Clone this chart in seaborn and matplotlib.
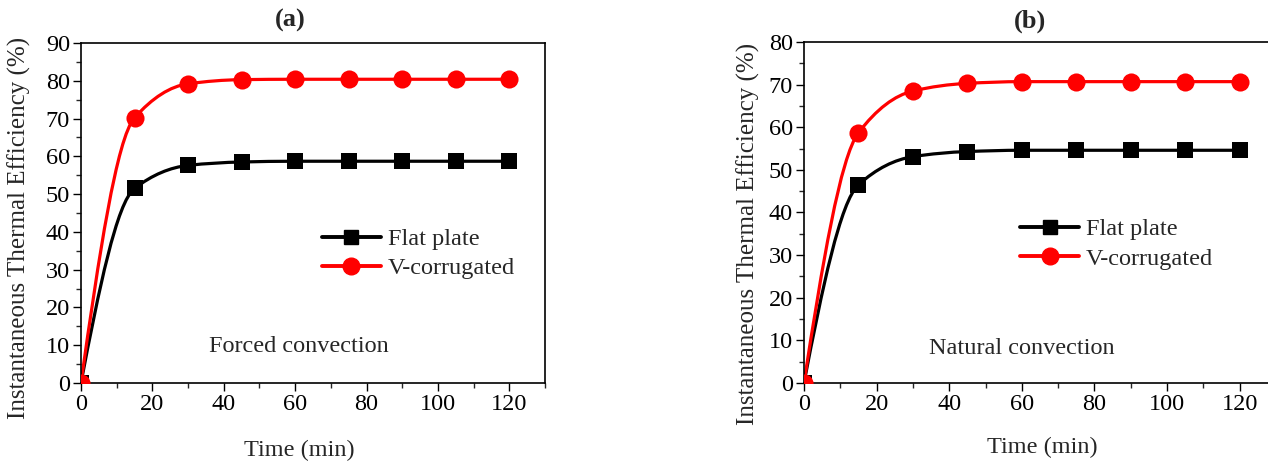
import numpy as np
import pandas as pd
import matplotlib
matplotlib.use("Agg")
import matplotlib.pyplot as plt
import seaborn as sns
from matplotlib.path import Path
from matplotlib.patches import PathPatch
from matplotlib.lines import Line2D
from matplotlib.ticker import MultipleLocator

# ---- data ----
time_min = [0, 15, 30, 45, 60, 75, 90, 105, 120]
forced_flat = [0, 51.5, 57.6, 58.5, 58.7, 58.7, 58.7, 58.7, 58.7]
forced_vcorr = [0, 70.2, 79.2, 80.3, 80.4, 80.4, 80.4, 80.4, 80.4]
natural_flat = [0, 46.5, 53.1, 54.3, 54.6, 54.6, 54.6, 54.6, 54.6]
natural_vcorr = [0, 58.7, 68.5, 70.3, 70.7, 70.7, 70.7, 70.7, 70.7]
series_names = ["Flat plate", "V-corrugated"]
panel_titles = ["(a)", "(b)"]
panel_notes = ["Forced convection", "Natural convection"]
y_max = [90, 80]
x_ticks = [0, 20, 40, 60, 80, 100, 120]

sns.set_style("ticks")
plt.rcParams["font.family"] = ["Liberation Serif", "DejaVu Serif"]

colors = {"Flat plate": "black", "V-corrugated": "red"}
markers = {"Flat plate": "s", "V-corrugated": "o"}
msizes = {"Flat plate": 130, "V-corrugated": 170}
FS = 17.5


def pchip_slopes(x, y):
    x = np.asarray(x, float)
    y = np.asarray(y, float)
    h = np.diff(x)
    d = np.diff(y) / h
    n = len(x)
    m = np.zeros(n)
    for k in range(1, n - 1):
        if d[k - 1] * d[k] <= 0:
            m[k] = 0.0
        else:
            w1 = 2 * h[k] + h[k - 1]
            w2 = h[k] + 2 * h[k - 1]
            m[k] = (w1 + w2) / (w1 / d[k - 1] + w2 / d[k])

    def end(h0, h1, d0, d1):
        s = ((2 * h0 + h1) * d0 - h0 * d1) / (h0 + h1)
        if np.sign(s) != np.sign(d0):
            s = 0.0
        elif np.sign(d0) != np.sign(d1) and abs(s) > abs(3 * d0):
            s = 3 * d0
        return s

    m[0] = end(h[0], h[1], d[0], d[1])
    m[-1] = end(h[-1], h[-2], d[-1], d[-2])
    return m


def smooth_path(ax, x, y, color, lw):
    m = pchip_slopes(x, y)
    verts = [(x[0], y[0])]
    codes = [Path.MOVETO]
    for i in range(len(x) - 1):
        h = x[i + 1] - x[i]
        verts += [(x[i] + h / 3, y[i] + m[i] * h / 3),
                  (x[i + 1] - h / 3, y[i + 1] - m[i + 1] * h / 3),
                  (x[i + 1], y[i + 1])]
        codes += [Path.CURVE4] * 3
    patch = PathPatch(Path(verts, codes), facecolor="none", edgecolor=color,
                      lw=lw, transform=ax.transData, zorder=2)
    ax.add_patch(patch)


fig = plt.figure(figsize=(12.68, 4.62), dpi=100)
W, H = 1268, 462
ax_a = fig.add_axes([81 / W, 1 - 383 / H, (545 - 81) / W, (383 - 43) / H])
ax_b = fig.add_axes([804 / W, 1 - 383 / H, (1276 - 804) / W, (383 - 42) / H])

panels = [(ax_a, forced_flat, forced_vcorr), (ax_b, natural_flat, natural_vcorr)]
legend_pos = [(0.499, 0.484), (0.438, 0.511)]
note_pos = [(0.276, 0.107), (0.264, 0.10)]
title_pos = [(0.45, 1.066), (0.479, 1.062)]
xlabel_pos = [(0.47, -0.197), (0.504, -0.188)]
ylabel_pos = [(-0.132, 0.456), (-0.117, 0.437)]

for i, (ax, flat, vcorr) in enumerate(panels):
    df = pd.DataFrame({
        "Time": time_min * 2,
        "Eff": list(flat) + list(vcorr),
        "Series": [series_names[0]] * len(time_min) + [series_names[1]] * len(time_min),
    })
    for name, vals in zip(series_names, [flat, vcorr]):
        smooth_path(ax, time_min, vals, colors[name], 2.3)
    for name in series_names:
        sns.scatterplot(data=df[df["Series"] == name], x="Time", y="Eff",
                        color=colors[name], marker=markers[name], s=msizes[name],
                        linewidth=0, ax=ax, legend=False, zorder=3)
    ax.set_xlim(0, 130)
    ax.set_ylim(0, y_max[i])
    ax.set_xticks(x_ticks)
    ax.yaxis.set_major_locator(MultipleLocator(10))
    ax.xaxis.set_minor_locator(MultipleLocator(10))
    ax.yaxis.set_minor_locator(MultipleLocator(5))
    ax.tick_params(which="major", direction="out", length=6, width=1,
                   labelsize=FS, colors="black", pad=2)
    ax.tick_params(which="minor", direction="out", length=3.5, width=1)
    for sp in ax.spines.values():
        sp.set_visible(True)
        sp.set_linewidth(1.2)
        sp.set_color("black")
    ax.set_xlabel("Time (min)", fontsize=FS, va="center")
    ax.xaxis.set_label_coords(*xlabel_pos[i])
    ax.set_ylabel("Instantaneous Thermal Efficiency (%)", fontsize=18, va="center")
    ax.yaxis.set_label_coords(*ylabel_pos[i])
    ax.text(title_pos[i][0], title_pos[i][1], panel_titles[i], transform=ax.transAxes,
            fontsize=19, fontweight="bold", ha="center", va="center")
    ax.text(note_pos[i][0], note_pos[i][1], panel_notes[i], transform=ax.transAxes,
            fontsize=FS, ha="left", va="center")
    handles = [Line2D([], [], color=colors[n], marker=markers[n], lw=2.8,
                      markersize=10 if n == "Flat plate" else 12) for n in series_names]
    ax.legend(handles, series_names, loc="upper left", bbox_to_anchor=legend_pos[i],
              frameon=False, fontsize=FS, handlelength=2.4, handletextpad=0.3,
              labelspacing=0.3, borderaxespad=0)

fig.savefig("out.png", dpi=100)
